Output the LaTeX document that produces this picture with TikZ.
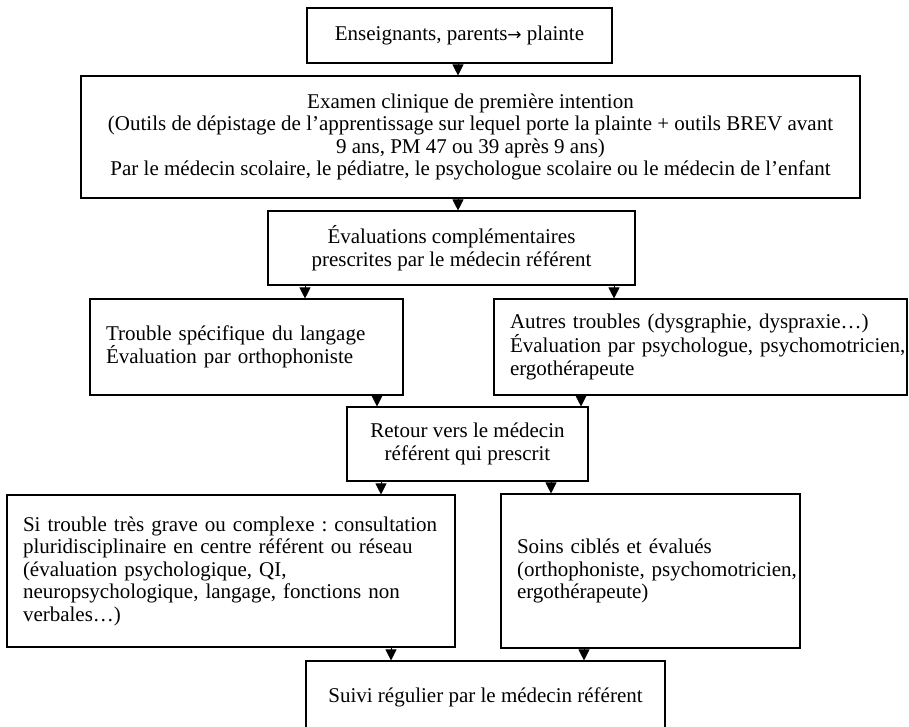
\documentclass[tikz,border=0pt]{standalone}
\usepackage{fontspec}
\setmainfont{Liberation Serif}
\newfontfamily\symbfont{DejaVu Sans}
\frenchspacing
\usetikzlibrary{arrows.meta, shadows}
\tikzset{
	box/.style={rectangle, draw=black, line width=1.1pt, fill=white, align=center, inner sep=0pt, font=\fontsize{21}{22.5}\selectfont, drop shadow={shadow xshift=1.2pt, shadow yshift=-1.2pt, fill=black!55, opacity=1}},
	leftbox/.style={box, align=left, inner xsep=16pt},
	arrow/.style={-{Triangle[width=11pt, length=11pt]}, line width=0.8pt},
}

\begin{document}
\begin{tikzpicture}[x=1pt, y=-1pt]
		\useasboundingbox (0,0) rectangle (909,726);
		\node[box, minimum width=305pt, minimum height=55pt] (plainte) at (459.5,35.5) {Enseignants, parents{\symbfont\fontsize{17}{20}\selectfont →} plainte};
		\node[box, minimum width=779pt, minimum height=122pt] (examen) at (470.5,137) {Examen clinique de première intention\\(Outils de dépistage de l’apprentissage sur lequel porte la plainte + outils BREV avant\\9 ans, PM 47 ou 39 après 9 ans)\\Par le médecin scolaire, le pédiatre, le psychologue scolaire ou le médecin de l’enfant};
		\node[box, minimum width=367pt, minimum height=74pt] (evals) at (451.5,248) {Évaluations complémentaires\\prescrites par le médecin référent};
		\node[leftbox, text width=281pt, minimum height=96pt] (langage) at (246.5,347) {Trouble spécifique du langage\\Évaluation par orthophoniste};
		\node[leftbox, text width=381pt, minimum height=96pt] (autres) at (700.5,347) {Autres troubles (dysgraphie, dyspraxie…)\\\mbox{Évaluation par psychologue, psychomotricien,}\\ergothérapeute};
		\node[box, minimum width=241pt, minimum height=74pt] (retour) at (467.5,444) {Retour vers le médecin\\référent qui prescrit};
		\node[leftbox, text width=416pt, minimum height=152pt] (grave) at (231,571) {Si trouble très grave ou complexe : consultation\\pluridisciplinaire en centre référent ou réseau\\(évaluation psychologique, QI,\\neuropsychologique, langage, fonctions non\\verbales…)};
		\node[leftbox, text width=267pt, minimum height=154pt] (soins) at (650.5,571) {Soins ciblés et évalués\\\mbox{(orthophoniste, psychomotricien,}\\ergothérapeute)};
		\node[box, minimum width=359pt, minimum height=72pt] (suivi) at (485.5,697) {Suivi régulier par le médecin référent};
		\draw[arrow] (458,0 |- plainte.south) -- (458,0 |- examen.north);
		\draw[arrow] (458,0 |- examen.south) -- (458,0 |- evals.north);
		\draw[arrow] (305,0 |- evals.south) -- (305,0 |- langage.north);
		\draw[arrow] (614,0 |- evals.south) -- (614,0 |- autres.north);
		\draw[arrow] (377,0 |- langage.south) -- (377,0 |- retour.north);
		\draw[arrow] (581,0 |- autres.south) -- (581,0 |- retour.north);
		\draw[arrow] (381,0 |- retour.south) -- (381,0 |- grave.north);
		\draw[arrow] (551,0 |- retour.south) -- (551,0 |- soins.north);
		\draw[arrow] (391,0 |- grave.south) -- (391,0 |- suivi.north);
		\draw[arrow] (584,0 |- soins.south) -- (584,0 |- suivi.north);
	\end{tikzpicture}
\end{document}
